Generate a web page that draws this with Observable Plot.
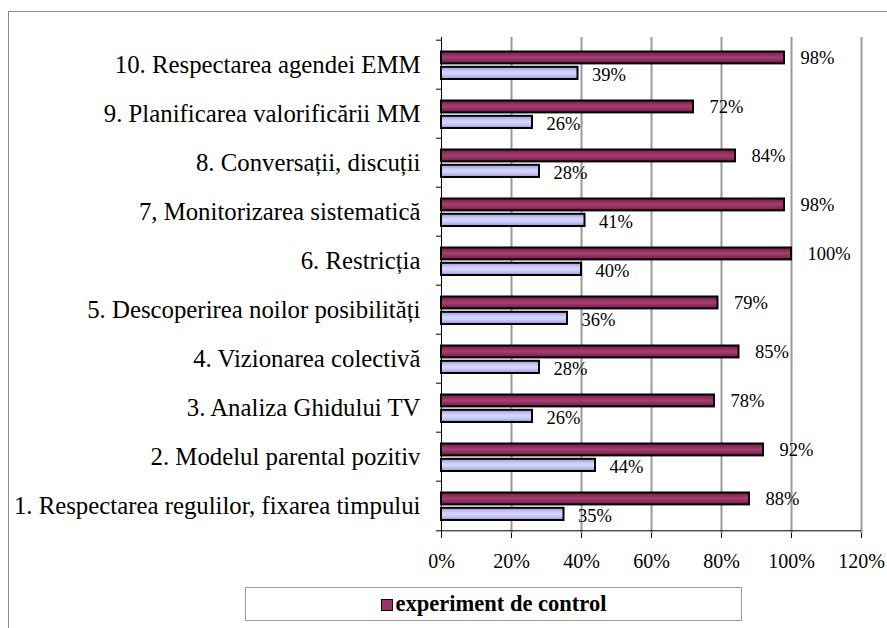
<!DOCTYPE html>
<html>
<head>
<meta charset="utf-8">
<script src="https://cdn.jsdelivr.net/npm/d3@7"></script>
<script src="https://cdn.jsdelivr.net/npm/@observablehq/plot@0.6"></script>
<style>
  html, body { margin: 0; padding: 0; background: #fff; overflow: hidden; width: 887px; height: 628px; }
  #wrap { position: relative; width: 887px; height: 628px; font-family: "Liberation Serif", "Times New Roman", "DejaVu Serif", serif; }
  #frame { position: absolute; left: 8px; top: 11px; width: 920px; height: 660px; border: 1px solid #8c8c8c; box-sizing: border-box; }
  #chart { position: absolute; left: 0; top: 0; }
  #legend { position: absolute; left: 245px; top: 587px; width: 497px; height: 34px; border: 1px solid #9a9a9a; box-sizing: border-box;
            display: flex; align-items: center; justify-content: center; font-weight: bold; font-size: 22.5px; color: #000; }
  #legend .sw { display: inline-block; width: 10px; height: 10px; background: #993366; border: 1px solid #000; margin-right: 3px; margin-top: 2px; }
</style>
</head>
<body>
<div id="wrap">
  <div id="frame"></div>
  <div id="chart"></div>
  <div id="legend"></div>
</div>
<script>
// Categories (numbered 1..10, drawn bottom to top)
const categories = [
  "1. Respectarea regulilor, fixarea timpului",
  "2. Modelul parental pozitiv",
  "3. Analiza Ghidului TV",
  "4. Vizionarea colectivă",
  "5. Descoperirea noilor posibilități",
  "6. Restricția",
  "7, Monitorizarea sistematică",
  "8. Conversații, discuții",
  "9. Planificarea valorificării MM",
  "10. Respectarea agendei EMM"
];
const seriesNames = ["experiment de control", "experiment de constatare"];
const controlValues = [88, 92, 78, 85, 79, 100, 98, 84, 72, 98];
const otherValues   = [35, 44, 26, 28, 36, 40, 41, 28, 26, 39];
const xTicks = [0, 20, 40, 60, 80, 100, 120];
const gridTicks = [20, 40, 60, 80, 100, 120];

const data = categories.map((c, i) => ({cat: c, control: controlValues[i], other: otherValues[i]}));
const yDomain = categories.slice().reverse();

const W = 887, H = 580;
const mTop = 37, mBottom = 47, mLeft = 441, mRight = 26;
const band = (H - mTop - mBottom) / categories.length;
const pxPerUnit = (W - mLeft - mRight) / 120;
const font = '"Liberation Serif", "Times New Roman", "DejaVu Serif", serif';

const plot = Plot.plot({
  width: W,
  height: H,
  marginTop: mTop,
  marginBottom: mBottom,
  marginLeft: mLeft,
  marginRight: mRight,
  style: {fontFamily: font, color: "#000", background: "transparent"},
  x: {domain: [0, 120], ticks: xTicks, label: null},
  y: {type: "band", domain: yDomain, padding: 0, label: null},
  marks: [
    Plot.ruleX(gridTicks, {stroke: "#9a9a9a", strokeWidth: 2}),
    Plot.barX(data, {x: "other", y: "cat", fill: "url(#gradLav)", stroke: "#000", strokeWidth: 2,
      insetTop: 26.8, insetBottom: 10}),
    Plot.barX(data, {x: "control", y: "cat", fill: "url(#gradMar)", stroke: "#000", strokeWidth: 2,
      insetTop: 11.5, insetBottom: 25.6}),
    Plot.text(data, {x: "control", y: "cat", text: d => d.control + "%", textAnchor: "start",
      dx: 16, dy: -7, fontSize: 18.5, fill: "#000"}),
    Plot.text(data, {x: "other", y: "cat", text: d => d.other + "%", textAnchor: "start",
      dx: 14, dy: 10, fontSize: 18.5, fill: "#000"}),
    // left axis line and category boundary ticks
    Plot.ruleX([0], {stroke: "#000", strokeWidth: 1}),
    Plot.ruleY(categories, {y: d => d, x1: -5 / pxPerUnit, x2: 0, dy: -band / 2, stroke: "#000"}),
    Plot.ruleY([categories[0]], {y: d => d, x1: -5 / pxPerUnit, x2: 0, dy: band / 2, stroke: "#000"}),
    // bottom axis line
    Plot.ruleY([categories[0]], {y: d => d, dy: band / 2, stroke: "#000", strokeWidth: 1}),
    Plot.axisY({tickSize: 0, tickPadding: 21, fontSize: 24.8, label: null}),
    Plot.axisX({ticks: xTicks, tickFormat: d => d + "%", tickSize: 5, tickPadding: 15, fontSize: 20, label: null})
  ]
});

// gradients for the bars
const ns = "http://www.w3.org/2000/svg";
const svg = plot.tagName.toLowerCase() === "svg" ? plot : plot.querySelector("svg");
const defs = document.createElementNS(ns, "defs");
function grad(id, stops) {
  const g = document.createElementNS(ns, "linearGradient");
  g.setAttribute("id", id);
  g.setAttribute("x1", "0"); g.setAttribute("y1", "0");
  g.setAttribute("x2", "0"); g.setAttribute("y2", "1");
  for (const [o, c] of stops) {
    const s = document.createElementNS(ns, "stop");
    s.setAttribute("offset", o);
    s.setAttribute("stop-color", c);
    g.appendChild(s);
  }
  defs.appendChild(g);
}
grad("gradMar", [["0%", "#6a1d43"], ["35%", "#993366"], ["50%", "#a3406f"], ["65%", "#993366"], ["100%", "#6a1d43"]]);
grad("gradLav", [["0%", "#9a9ad0"], ["35%", "#ccccff"], ["50%", "#d6d6ff"], ["65%", "#ccccff"], ["100%", "#9a9ad0"]]);
svg.insertBefore(defs, svg.firstChild);

document.getElementById("chart").appendChild(plot);

const legend = document.getElementById("legend");
const sw = document.createElement("span");
sw.className = "sw";
legend.appendChild(sw);
legend.appendChild(document.createTextNode(seriesNames[0]));
</script>
</body>
</html>
